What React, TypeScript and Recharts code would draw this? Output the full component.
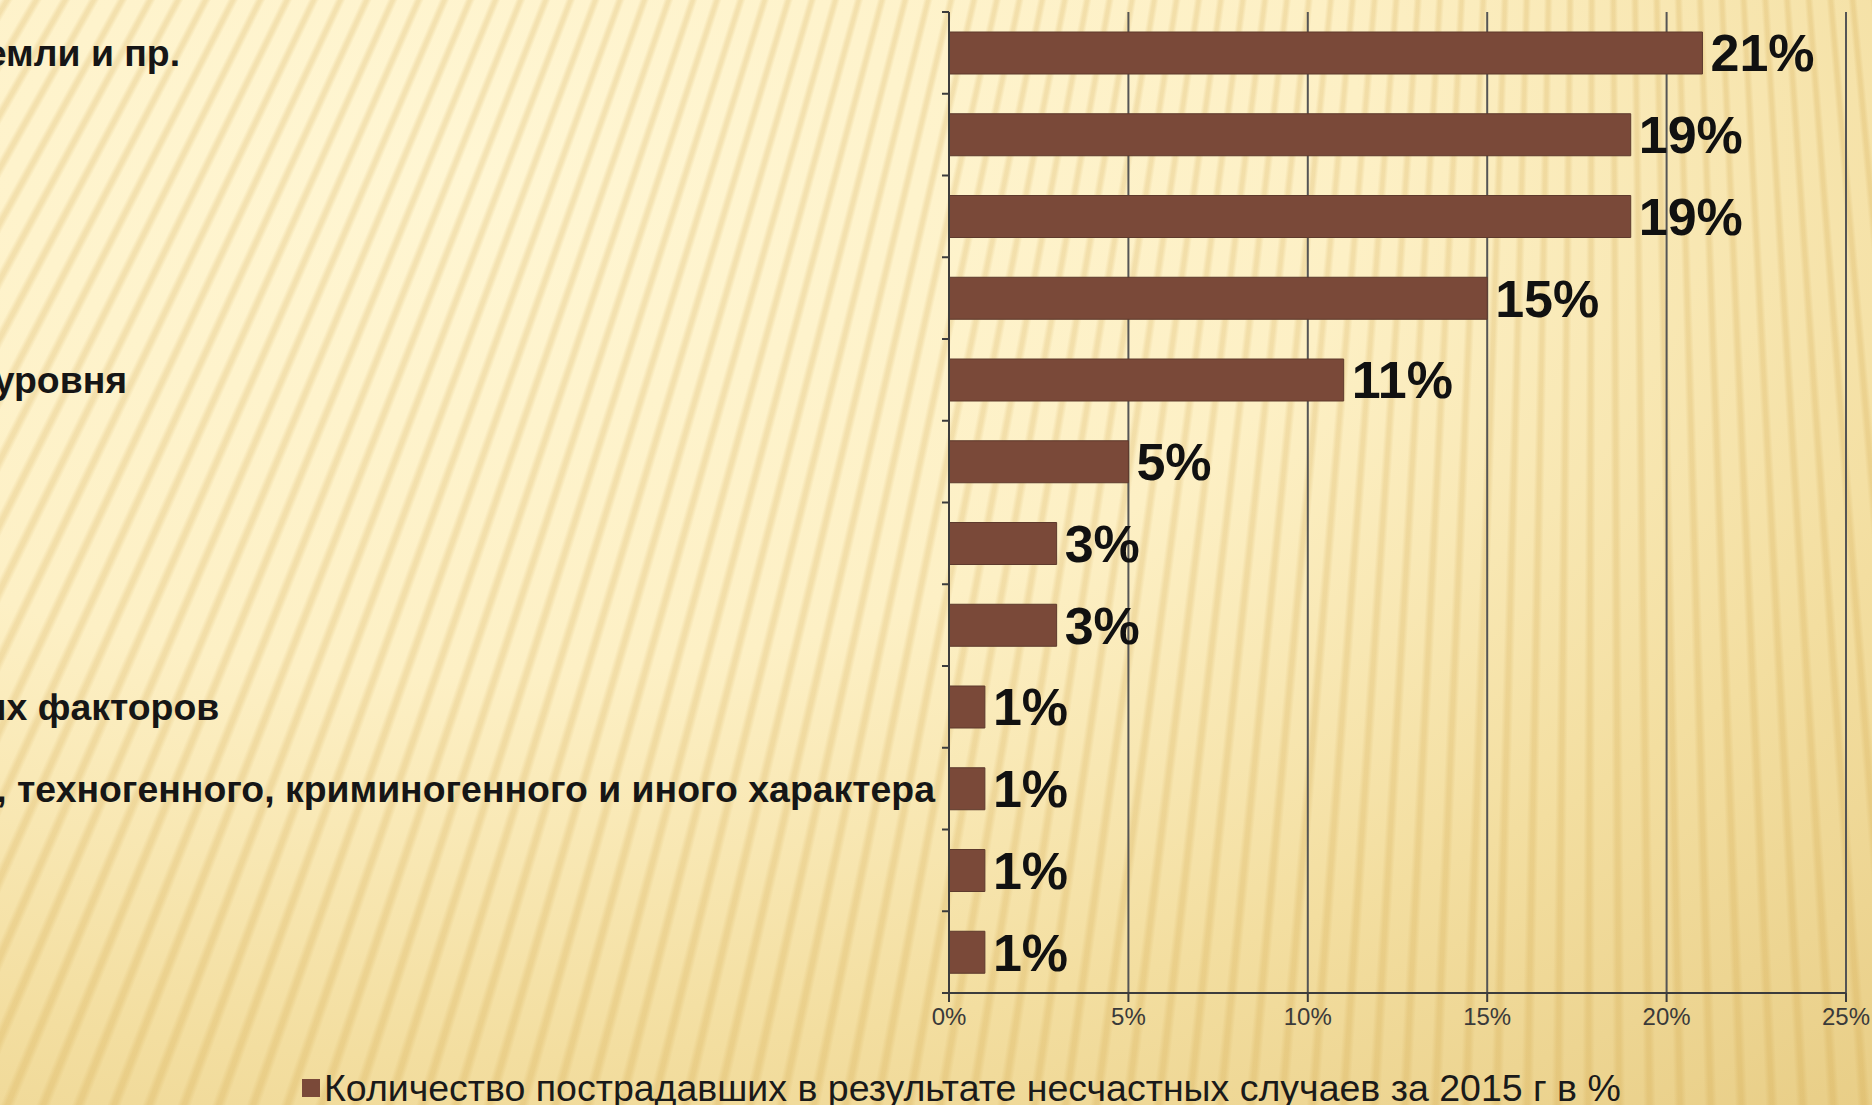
import React from 'react';
import { BarChart, Bar, XAxis, YAxis, CartesianGrid, LabelList, Legend } from 'recharts';

const categories = [
  'Падение, обрушение, обвалы предметов, материалов, земли и пр.',
  'Падение пострадавшего с высоты',
  'Транспортные происшествия',
  'Воздействие движущихся предметов и деталей',
  'Падение пострадавшего на ровной поверхности одного уровня',
  'Физические перегрузки',
  'Воздействие экстремальных температур',
  'Поражение электрическим током',
  'Воздействие других неблагоприятных производственных факторов',
  'Повреждения при чрезвычайных ситуациях природного, техногенного, криминогенного и иного характера',
  'Воздействие вредных веществ',
  'Утопление',
];
const values = [21, 19, 19, 15, 11, 5, 3, 3, 1, 1, 1, 1];
const xTicks = [0, 5, 10, 15, 20, 25];
const seriesName = 'Количество пострадавших в результате несчастных случаев за 2015 г в %';

const data = categories.map((name, i) => ({ name, value: values[i] }));

const W = 1872;
const H = 1105;
const Y_AXIS_W = 949;
const LABEL_START_X = -1061;
const FONT = "'Liberation Sans', Arial, Helvetica, sans-serif";
const BAR_COLOR = '#7a4939';
const AXIS_COLOR = '#3c3c3c';

function CategoryTick(props: any) {
  const { y, payload, index, visibleTicksCount, height } = props;
  const band = typeof height === 'number' && visibleTicksCount ? height / visibleTicksCount : 0;
  return (
    <g>
      <text
        x={LABEL_START_X}
        y={y}
        dy="0.36em"
        textAnchor="start"
        fontSize={37.4}
        fontWeight={700}
        fill="#161616"
        fontFamily={FONT}
      >
        {payload.value}
      </text>
      {band > 0 && (
        <line x1={Y_AXIS_W - 7} x2={Y_AXIS_W} y1={y - band / 2} y2={y - band / 2} stroke={AXIS_COLOR} strokeWidth={2} />
      )}
      {band > 0 && index === visibleTicksCount - 1 && (
        <line x1={Y_AXIS_W - 7} x2={Y_AXIS_W} y1={y + band / 2} y2={y + band / 2} stroke={AXIS_COLOR} strokeWidth={2} />
      )}
    </g>
  );
}

function LegendContent() {
  return (
    <div
      style={{
        height: 52,
        boxSizing: 'border-box',
        paddingLeft: 302,
        position: 'relative',
        top: 15,
        fontFamily: FONT,
        fontSize: 37.5,
        lineHeight: '40px',
        color: '#1a1a1a',
        whiteSpace: 'nowrap',
      }}
    >
      <span
        style={{
          display: 'inline-block',
          width: 18,
          height: 18,
          background: BAR_COLOR,
          marginRight: 4,
          verticalAlign: 'middle',
          position: 'relative',
          top: -3,
        }}
      />
      <span>{seriesName}</span>
    </div>
  );
}

const background = [
  'repeating-conic-gradient(from 0deg at 1600px -2700px, rgba(200,150,50,0) 0deg 0.22deg, rgba(200,150,50,0.2) 0.29deg 0.34deg, rgba(200,150,50,0) 0.41deg 0.46deg)',
  'radial-gradient(ellipse 120% 115% at 25% 15%, #fff6d3 0%, #fdf0c5 40%, #f3dea0 70%, #e7cc84 100%)',
].join(', ');

export default function App() {
  return (
    <div
      style={{
        position: 'absolute',
        left: 0,
        top: 0,
        width: W,
        height: H,
        overflow: 'hidden',
        background,
      }}
    >
      <BarChart
        width={W}
        height={H}
        data={data}
        layout="vertical"
        margin={{ top: 12, right: 26, bottom: 0, left: 0 }}
        barSize={42}
      >
        <CartesianGrid horizontal={false} vertical stroke="#555555" strokeWidth={2} />
        <XAxis
          type="number"
          domain={[0, 25]}
          ticks={xTicks}
          interval={0}
          tickFormatter={(v: number) => `${v}%`}
          axisLine={{ stroke: AXIS_COLOR, strokeWidth: 2 }}
          tickLine={{ stroke: AXIS_COLOR, strokeWidth: 2 }}
          tickSize={9}
          tickMargin={6}
          height={60}
          tick={{ fill: '#3a3a3a', fontSize: 24, fontFamily: FONT }}
        />
        <YAxis
          type="category"
          dataKey="name"
          width={Y_AXIS_W}
          interval={0}
          axisLine={{ stroke: AXIS_COLOR, strokeWidth: 2 }}
          tickLine={false}
          tick={<CategoryTick />}
        />
        <Legend verticalAlign="bottom" align="left" height={52} content={<LegendContent />} />
        <Bar dataKey="value" name={seriesName} fill={BAR_COLOR} stroke="#5e3a2d" strokeWidth={1} isAnimationActive={false}>
          <LabelList
            dataKey="value"
            position="right"
            offset={8}
            formatter={(v: any) => `${v}%`}
            fill="#111111"
            fontSize={52}
            fontWeight={700}
            fontFamily={FONT}
          />
        </Bar>
      </BarChart>
    </div>
  );
}
